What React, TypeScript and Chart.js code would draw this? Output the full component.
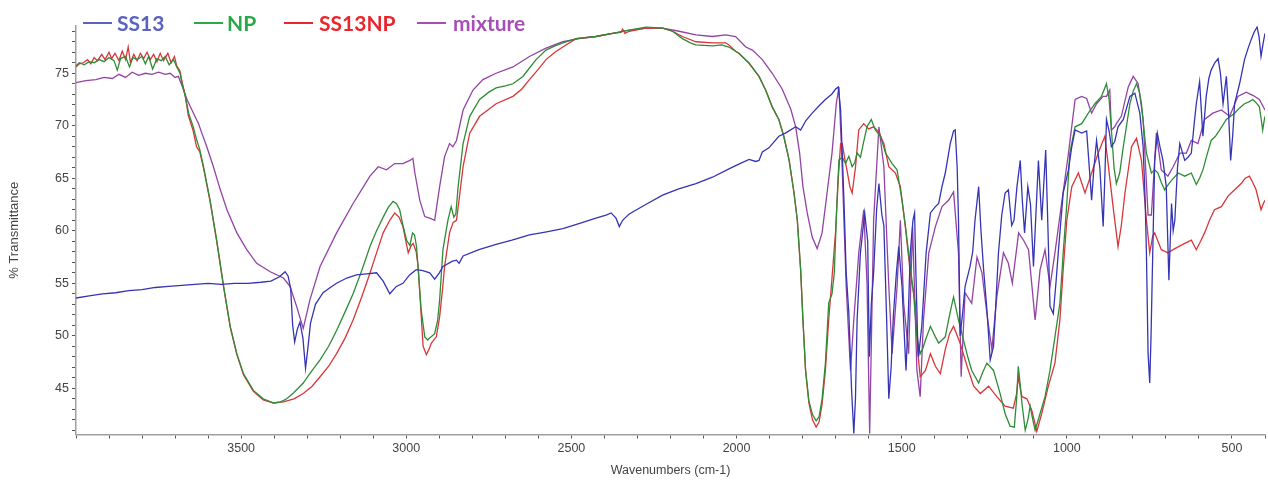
import React, { useEffect, useRef } from "react";
import { Chart, registerables } from "chart.js";

Chart.register(...registerables);

// [wavenumber (cm-1), % transmittance]
const ss13: [number, number][] = [
  [4000, 53.6], [3960, 53.8], [3920, 54.0], [3880, 54.1], [3840, 54.3], [3800, 54.4], [3760, 54.6], [3720, 54.7],
  [3680, 54.8], [3640, 54.9], [3600, 55.0], [3560, 54.9], [3520, 55.0], [3480, 55.0], [3440, 55.1], [3410, 55.2],
  [3385, 55.6], [3367, 56.1], [3358, 55.7], [3350, 54.5], [3344, 51.0], [3338, 49.4], [3330, 50.6], [3322, 51.3],
  [3313, 49.8], [3305, 46.9], [3298, 48.8], [3290, 51.2], [3275, 53.0], [3252, 54.1], [3230, 54.6], [3211, 55.0],
  [3180, 55.5], [3151, 55.8], [3120, 55.9], [3090, 56.0], [3070, 55.2], [3050, 54.0], [3030, 54.7], [3010, 55.0],
  [2990, 55.8], [2970, 56.3], [2950, 56.2], [2929, 56.0], [2914, 55.4], [2900, 56.0], [2889, 56.6], [2860, 57.1],
  [2848, 57.2], [2840, 56.9], [2828, 57.6], [2780, 58.2], [2728, 58.7], [2680, 59.1], [2627, 59.6], [2575, 59.9],
  [2526, 60.2], [2475, 60.7], [2426, 61.2], [2395, 61.5], [2380, 61.7], [2365, 61.2], [2355, 60.4], [2345, 61.0],
  [2335, 61.3], [2325, 61.6], [2275, 62.5], [2224, 63.4], [2175, 64.0], [2123, 64.5], [2073, 65.1], [2023, 65.9],
  [1990, 66.4], [1962, 66.8], [1942, 66.6], [1932, 66.7], [1922, 67.5], [1902, 67.9], [1872, 69.0], [1852, 69.3],
  [1821, 69.9], [1806, 69.6], [1790, 70.5], [1771, 71.2], [1750, 71.9], [1731, 72.5], [1712, 73.0], [1700, 73.5],
  [1692, 73.7], [1685, 71.5], [1680, 67.4], [1675, 63.0], [1668, 56.0], [1660, 52.1], [1652, 45.0], [1645, 40.7],
  [1640, 44.0], [1635, 51.5], [1625, 57.9], [1612, 61.7], [1603, 59.0], [1598, 48.0], [1592, 53.0], [1585, 56.0],
  [1576, 62.0], [1569, 64.5], [1560, 61.5], [1554, 60.5], [1546, 52.0], [1539, 44.0], [1532, 47.0], [1525, 52.0],
  [1516, 56.0], [1509, 58.5], [1499, 54.7], [1487, 46.7], [1480, 52.0], [1474, 57.9], [1466, 61.0], [1461, 61.7],
  [1457, 56.0], [1452, 50.0], [1449, 48.0], [1439, 51.0], [1426, 57.9], [1413, 61.7], [1398, 62.3], [1388, 62.6],
  [1378, 64.2], [1368, 65.5], [1353, 68.3], [1343, 69.5], [1338, 69.6], [1332, 66.0], [1328, 61.0], [1323, 50.0],
  [1316, 52.0], [1308, 54.7], [1293, 56.6], [1285, 58.0], [1278, 61.0], [1267, 64.2], [1260, 60.0], [1252, 56.3],
  [1242, 52.5], [1232, 47.7], [1222, 49.0], [1215, 53.0], [1207, 57.9], [1197, 61.5], [1187, 63.6], [1177, 63.9],
  [1167, 60.5], [1160, 61.0], [1151, 64.2], [1141, 66.7], [1135, 63.0], [1128, 59.8], [1118, 64.2], [1110, 62.5],
  [1101, 56.6], [1093, 62.0], [1086, 66.7], [1076, 61.0], [1064, 67.7], [1057, 60.0], [1051, 52.8], [1041, 52.1],
  [1033, 55.0], [1026, 57.9], [1011, 63.6], [995, 65.8], [985, 68.0], [975, 69.6], [955, 69.3], [940, 69.5],
  [932, 66.0], [925, 62.9], [918, 66.0], [910, 68.6], [900, 66.0], [890, 60.4], [884, 66.0], [880, 70.6],
  [872, 69.5], [865, 68.0], [855, 68.5], [845, 69.9], [829, 70.6], [809, 72.8], [794, 73.1], [779, 71.2],
  [769, 68.0], [763, 63.0], [759, 57.9], [754, 48.3], [749, 45.5], [745, 50.0], [742, 54.7], [734, 66.7],
  [726, 69.3], [718, 68.0], [709, 66.7], [699, 64.2], [691, 55.3], [683, 62.6], [678, 60.0], [673, 61.0],
  [665, 66.0], [658, 68.3], [643, 66.7], [633, 67.0], [623, 67.4], [615, 70.0], [608, 72.1], [598, 74.2],
  [588, 69.0], [578, 72.8], [570, 74.5], [563, 75.3], [552, 76.0], [542, 76.4], [535, 75.0], [527, 72.1],
  [517, 74.7], [510, 71.0], [504, 66.7], [498, 69.0], [492, 72.1], [477, 74.0], [462, 76.3], [452, 77.3],
  [442, 78.2], [433, 78.9], [424, 79.4], [418, 78.5], [412, 76.6], [406, 77.8], [400, 78.8],
];

const np: [number, number][] = [
  [4000, 75.7], [3990, 76.0], [3975, 75.8], [3960, 76.1], [3945, 76.0], [3930, 76.3], [3915, 76.1], [3900, 76.5],
  [3885, 76.2], [3875, 75.3], [3865, 76.4], [3850, 76.6], [3838, 75.6], [3828, 76.5], [3815, 76.3], [3800, 76.6],
  [3790, 75.9], [3780, 76.6], [3768, 75.4], [3755, 76.4], [3742, 76.2], [3730, 76.6], [3718, 75.8], [3705, 76.3],
  [3695, 75.6], [3685, 75.0], [3679, 74.0], [3669, 72.8], [3659, 71.2], [3645, 69.9], [3635, 68.7], [3625, 67.7],
  [3614, 66.1], [3594, 62.9], [3574, 59.1], [3553, 54.7], [3533, 50.9], [3513, 48.3], [3493, 46.4], [3463, 44.8],
  [3433, 44.0], [3402, 43.6], [3380, 43.7], [3362, 44.0], [3340, 44.6], [3312, 45.5], [3290, 46.5], [3261, 47.7],
  [3235, 49.0], [3211, 50.5], [3185, 52.3], [3161, 54.0], [3135, 56.2], [3110, 58.5], [3090, 60.0], [3070, 61.3],
  [3055, 62.2], [3040, 62.8], [3030, 62.6], [3020, 62.0], [3010, 60.5], [2999, 59.1], [2989, 58.6], [2981, 59.8],
  [2975, 59.6], [2969, 58.5], [2962, 55.5], [2955, 52.5], [2944, 49.9], [2935, 49.6], [2929, 49.8], [2914, 50.2],
  [2905, 51.5], [2899, 53.4], [2889, 58.2], [2874, 61.0], [2864, 62.3], [2856, 61.3], [2850, 61.6], [2843, 64.2],
  [2828, 68.3], [2808, 70.9], [2778, 72.5], [2750, 73.2], [2728, 73.6], [2700, 73.8], [2677, 74.0], [2647, 74.7],
  [2627, 75.5], [2607, 76.3], [2577, 77.2], [2550, 77.6], [2526, 77.9], [2486, 78.3], [2426, 78.5], [2375, 78.8],
  [2325, 79.1], [2274, 79.4], [2224, 79.3], [2194, 79.0], [2164, 78.3], [2140, 77.9], [2123, 77.7], [2073, 77.6],
  [2045, 77.7], [2023, 77.5], [2003, 77.1], [1993, 76.9], [1962, 75.95], [1932, 74.7], [1912, 73.4], [1892, 71.8],
  [1872, 70.6], [1857, 69.0], [1841, 66.75], [1826, 63.6], [1816, 61.0], [1806, 56.3], [1799, 51.5], [1791, 46.7],
  [1781, 43.8], [1770, 42.5], [1759, 41.9], [1750, 42.3], [1741, 44.0], [1731, 47.4], [1721, 53.1], [1711, 54.0],
  [1704, 56.0], [1697, 62.0], [1690, 66.75], [1680, 67.0], [1670, 66.4], [1660, 67.1], [1650, 66.1], [1642, 66.5],
  [1635, 67.4], [1625, 67.0], [1615, 68.5], [1605, 69.9], [1592, 70.6], [1580, 69.6], [1564, 69.0], [1549, 67.4],
  [1529, 66.4], [1514, 65.8], [1499, 62.9], [1489, 60.5], [1479, 57.9], [1464, 54.0], [1454, 49.9], [1444, 48.3],
  [1436, 48.8], [1428, 49.6], [1413, 50.9], [1398, 49.9], [1388, 49.3], [1378, 49.6], [1368, 49.9], [1355, 52.0],
  [1343, 53.7], [1328, 51.5], [1313, 49.6], [1300, 48.0], [1288, 46.7], [1267, 45.5], [1255, 46.5], [1242, 47.4],
  [1222, 46.7], [1202, 44.5], [1187, 42.6], [1172, 41.4], [1159, 41.3], [1152, 44.0], [1147, 47.1], [1140, 45.0],
  [1136, 43.6], [1126, 41.0], [1118, 42.0], [1111, 43.3], [1103, 42.0], [1096, 41.0], [1081, 42.6], [1066, 44.2],
  [1051, 46.7], [1036, 49.9], [1021, 53.1], [1011, 57.9], [1000, 62.6], [991, 67.4], [975, 69.9], [955, 70.2],
  [935, 71.2], [915, 72.1], [895, 72.8], [880, 74.0], [872, 72.5], [865, 69.6], [857, 66.0], [850, 64.5],
  [840, 65.5], [829, 68.0], [809, 72.1], [799, 73.3], [789, 74.0], [780, 73.2], [774, 72.1], [766, 69.5],
  [759, 67.4], [744, 65.5], [734, 65.8], [724, 65.5], [714, 64.6], [704, 63.9], [693, 64.4], [683, 64.8],
  [663, 65.5], [643, 65.2], [623, 65.5], [608, 64.4], [598, 65.0], [588, 65.8], [575, 67.3], [563, 68.6],
  [550, 69.0], [537, 69.6], [517, 70.6], [492, 71.2], [477, 71.7], [462, 72.1], [447, 72.3], [437, 72.5],
  [427, 72.2], [417, 71.8], [411, 70.5], [407, 69.6], [403, 70.4], [400, 70.9],
];

const ss13np: [number, number][] = [
  [4000, 75.6], [3990, 75.9], [3978, 76.0], [3965, 76.3], [3955, 75.9], [3945, 76.5], [3935, 76.2], [3922, 76.8],
  [3912, 76.3], [3900, 77.0], [3892, 76.4], [3882, 76.9], [3870, 76.2], [3860, 77.1], [3850, 76.3], [3842, 77.5],
  [3835, 76.0], [3825, 76.8], [3815, 76.2], [3805, 76.9], [3795, 76.4], [3785, 77.0], [3775, 76.3], [3765, 76.8],
  [3755, 76.1], [3745, 76.9], [3735, 76.2], [3722, 76.9], [3712, 76.0], [3702, 76.6], [3695, 75.7], [3685, 75.2],
  [3679, 74.2], [3670, 73.0], [3660, 71.0], [3645, 69.5], [3635, 68.0], [3625, 67.5], [3614, 66.0], [3594, 62.8],
  [3574, 59.0], [3553, 54.6], [3533, 50.8], [3513, 48.2], [3493, 46.3], [3463, 44.7], [3433, 43.9], [3402, 43.6],
  [3372, 43.7], [3340, 44.0], [3312, 44.5], [3285, 45.2], [3261, 46.1], [3235, 47.1], [3211, 48.3], [3185, 49.8],
  [3161, 51.5], [3135, 53.7], [3110, 55.95], [3090, 57.9], [3070, 59.8], [3050, 61.0], [3035, 61.7], [3022, 61.3],
  [3010, 60.4], [3000, 58.8], [2994, 57.9], [2985, 58.6], [2979, 58.8], [2970, 58.0], [2964, 56.6], [2956, 52.5],
  [2949, 49.0], [2939, 48.2], [2930, 48.8], [2924, 49.3], [2909, 49.9], [2899, 51.8], [2890, 54.5], [2884, 56.6],
  [2869, 59.8], [2858, 60.8], [2848, 61.0], [2838, 63.5], [2828, 66.1], [2808, 69.3], [2778, 70.9], [2728, 72.1],
  [2677, 72.8], [2650, 73.5], [2627, 74.4], [2600, 75.4], [2577, 76.3], [2550, 77.0], [2526, 77.5], [2486, 78.3],
  [2426, 78.5], [2375, 78.8], [2350, 78.9], [2345, 79.2], [2338, 78.8], [2325, 79.0], [2274, 79.3], [2224, 79.3],
  [2194, 79.0], [2164, 78.5], [2123, 78.0], [2073, 77.9], [2033, 77.9], [2023, 77.7], [2003, 77.1], [1993, 76.9],
  [1962, 75.95], [1932, 74.7], [1912, 73.4], [1892, 71.8], [1872, 70.6], [1857, 69.0], [1841, 66.75], [1826, 63.6],
  [1816, 61.0], [1806, 56.3], [1799, 51.5], [1791, 46.7], [1781, 43.6], [1770, 42.0], [1759, 41.3], [1750, 41.8],
  [1741, 43.5], [1731, 46.7], [1721, 51.5], [1711, 55.5], [1700, 60.0], [1692, 65.0], [1685, 68.3], [1680, 68.3],
  [1672, 66.8], [1664, 65.5], [1657, 64.2], [1650, 63.6], [1640, 66.0], [1630, 69.6], [1615, 70.2], [1600, 69.7],
  [1585, 69.9], [1569, 69.4], [1554, 68.3], [1539, 66.1], [1519, 65.5], [1504, 64.2], [1489, 60.4], [1474, 56.0],
  [1459, 53.1], [1451, 48.3], [1444, 46.1], [1436, 46.4], [1428, 46.7], [1413, 48.3], [1398, 47.1], [1383, 46.4],
  [1368, 48.7], [1355, 50.2], [1343, 50.9], [1323, 49.3], [1302, 47.1], [1282, 45.2], [1262, 44.5], [1237, 45.2],
  [1212, 44.2], [1187, 43.3], [1162, 43.1], [1152, 44.5], [1147, 46.1], [1140, 44.8], [1136, 44.2], [1121, 44.0],
  [1106, 42.9], [1091, 40.9], [1076, 42.6], [1056, 45.2], [1036, 47.4], [1021, 51.5], [1011, 56.3], [1000, 61.0],
  [985, 64.2], [965, 65.5], [945, 63.6], [925, 65.5], [905, 67.4], [885, 69.0], [875, 66.4], [860, 62.3],
  [845, 58.5], [835, 60.5], [824, 63.6], [804, 68.0], [789, 68.8], [774, 66.7], [759, 61.0], [749, 57.9],
  [740, 59.5], [734, 59.8], [714, 58.2], [694, 57.9], [673, 58.3], [643, 58.8], [623, 59.1], [608, 58.2],
  [595, 59.0], [583, 59.8], [568, 61.0], [553, 62.0], [532, 62.3], [512, 63.3], [492, 63.9], [472, 64.5],
  [460, 65.0], [447, 65.2], [437, 64.6], [427, 63.9], [412, 62.0], [405, 62.6], [400, 62.9],
];

const mixture: [number, number][] = [
  [4000, 74.1], [3970, 74.3], [3940, 74.4], [3915, 74.6], [3890, 74.5], [3870, 74.9], [3850, 74.6], [3830, 75.1],
  [3810, 74.8], [3790, 75.0], [3770, 74.9], [3750, 75.1], [3730, 74.9], [3715, 75.0], [3700, 74.6], [3690, 74.7],
  [3679, 73.8], [3664, 72.5], [3649, 71.5], [3629, 70.2], [3619, 69.3], [3604, 68.0], [3584, 66.1], [3563, 63.9],
  [3543, 62.0], [3513, 59.8], [3483, 58.2], [3453, 56.9], [3412, 56.1], [3372, 55.5], [3352, 54.7], [3332, 52.8],
  [3312, 50.7], [3292, 53.4], [3261, 56.6], [3211, 59.8], [3161, 62.6], [3110, 65.2], [3085, 66.1], [3060, 65.8],
  [3035, 66.4], [3010, 66.4], [2989, 66.7], [2980, 66.9], [2974, 65.5], [2959, 62.9], [2944, 61.35], [2929, 61.2],
  [2914, 61.0], [2899, 64.2], [2884, 67.06], [2869, 68.3], [2859, 68.0], [2848, 68.6], [2828, 71.5], [2798, 73.4],
  [2768, 74.4], [2728, 75.0], [2677, 75.6], [2627, 76.6], [2577, 77.4], [2526, 78.0], [2476, 78.3], [2426, 78.5],
  [2375, 78.8], [2325, 79.1], [2274, 79.3], [2224, 79.3], [2174, 79.0], [2123, 78.65], [2073, 78.5], [2033, 78.65],
  [2003, 78.5], [1972, 77.5], [1952, 77.2], [1922, 76.3], [1892, 75.0], [1862, 73.5], [1836, 71.6], [1821, 69.9],
  [1809, 67.4], [1799, 64.2], [1786, 61.7], [1771, 59.4], [1756, 58.3], [1741, 59.8], [1726, 63.6], [1711, 67.4],
  [1698, 72.1], [1690, 73.7], [1681, 66.7], [1668, 54.7], [1655, 46.7], [1645, 51.5], [1630, 57.9], [1615, 62.0],
  [1605, 55.0], [1597, 40.7], [1585, 61.0], [1569, 69.9], [1554, 66.1], [1539, 54.7], [1529, 48.3], [1514, 54.7],
  [1504, 61.0], [1494, 53.1], [1479, 48.3], [1467, 60.4], [1454, 46.7], [1444, 44.2], [1434, 51.5], [1418, 57.9],
  [1398, 60.4], [1378, 62.3], [1358, 62.9], [1343, 63.7], [1328, 57.9], [1320, 46.1], [1308, 54.1], [1288, 53.1],
  [1272, 57.5], [1257, 56.0], [1242, 52.1], [1227, 48.7], [1212, 53.7], [1192, 57.9], [1177, 56.9], [1165, 55.0],
  [1146, 59.8], [1131, 59.1], [1116, 58.2], [1096, 51.5], [1081, 56.3], [1066, 58.2], [1051, 54.7], [1036, 57.9],
  [1016, 62.6], [995, 67.4], [975, 72.5], [955, 72.8], [940, 72.6], [925, 71.2], [910, 72.1], [890, 72.8],
  [880, 72.8], [870, 73.4], [865, 69.6], [855, 69.9], [850, 70.2], [835, 70.9], [814, 73.7], [799, 74.7],
  [784, 74.0], [769, 70.6], [754, 61.5], [744, 61.5], [729, 69.3], [714, 65.8], [694, 65.2], [678, 66.1],
  [658, 67.4], [638, 67.4], [623, 68.6], [603, 68.3], [583, 70.6], [558, 71.2], [532, 71.5], [507, 70.9],
  [482, 72.8], [457, 73.2], [437, 72.9], [417, 72.5], [400, 71.5],
];

const seriesNames = ["SS13", "NP", "SS13NP", "mixture"];
const seriesData = [ss13, np, ss13np, mixture];
const lineColors = ["#3434b4", "#2f8c36", "#d8363a", "#9243a4"];
const legendColors = ["#5a62c2", "#2aa84a", "#e8262c", "#a64db6"];

const xTickStep = 100;
const xLabelStep = 500;
const yTickStep = 1;
const yLabelStep = 5;

const FONT = "'Liberation Sans', Arial, sans-serif";

export default function App() {
  const canvasRef = useRef<HTMLCanvasElement | null>(null);

  useEffect(() => {
    document.body.style.margin = "0";
    const canvas = canvasRef.current;
    if (!canvas) return;
    const chart = new Chart(canvas, {
      type: "line",
      data: {
        datasets: seriesData.map((pts, i) => ({
          label: seriesNames[i],
          data: pts.map(([x, y]) => ({ x, y })),
          borderColor: lineColors[i],
          backgroundColor: lineColors[i],
          borderWidth: 1.3,
          pointRadius: 0,
          tension: 0,
          fill: false,
        })),
      },
      options: {
        animation: false,
        responsive: false,
        maintainAspectRatio: false,
        parsing: true,
        layout: { padding: { left: 0, right: 1, top: 26, bottom: 0 } },
        plugins: {
          legend: { display: false },
          tooltip: { enabled: false },
          title: { display: false },
        },
        scales: {
          x: {
            type: "linear",
            reverse: true,
            min: 400,
            max: 4000,
            afterFit: (scale: any) => {
              scale.height = 47.5;
            },
            border: { display: true, color: "#a0a0a0", width: 1.5 },
            grid: {
              display: true,
              drawOnChartArea: false,
              drawTicks: true,
              tickLength: 4,
              tickColor: "#555",
              tickWidth: 1,
            },
            ticks: {
              stepSize: xTickStep,
              autoSkip: false,
              maxRotation: 0,
              includeBounds: false,
              padding: 3,
              color: "#444",
              font: { family: FONT, size: 12.5 },
              callback: (v: any) => {
                const n = Number(v);
                return n % xLabelStep === 0 && n !== 4000 ? String(n) : "";
              },
            },
            title: {
              display: true,
              text: "Wavenumbers (cm-1)",
              color: "#444",
              font: { family: FONT, size: 12.5 },
              padding: { top: 4, bottom: 4 },
            },
          },
          y: {
            type: "linear",
            min: 40.6,
            max: 79.5,
            afterFit: (scale: any) => {
              scale.width = 76;
            },
            border: { display: true, color: "#a0a0a0", width: 1.5 },
            grid: {
              display: true,
              drawOnChartArea: false,
              drawTicks: true,
              tickLength: 4,
              tickColor: "#555",
              tickWidth: 1,
            },
            ticks: {
              stepSize: yTickStep,
              autoSkip: false,
              includeBounds: false,
              padding: 3,
              color: "#444",
              font: { family: FONT, size: 12.5 },
              callback: (v: any) => {
                const n = Math.round(Number(v) * 100) / 100;
                return n % yLabelStep === 0 ? String(n) : "";
              },
            },
            title: {
              display: true,
              text: "% Transmittance",
              color: "#444",
              font: { family: FONT, size: 13 },
              padding: { top: 7, bottom: 0 },
            },
          },
        },
      } as any,
    });
    return () => chart.destroy();
  }, []);

  const legendLineX = [83, 194, 284, 417];
  const legendTextX = [117, 227, 319, 453];

  return (
    <div style={{ position: "relative", width: 1268, height: 482, background: "#fff" }}>
      <canvas ref={canvasRef} width={1268} height={482} style={{ display: "block" }} />
      {seriesNames.map((name, i) => (
        <React.Fragment key={name}>
          <div
            style={{
              position: "absolute",
              left: legendLineX[i],
              top: 21.5,
              width: 29,
              height: 2,
              background: legendColors[i],
            }}
          />
          <span
            style={{
              position: "absolute",
              left: legendTextX[i],
              top: 11.5,
              fontFamily: "Lato, 'Open Sans', sans-serif",
              fontWeight: 700,
              fontSize: 21,
              lineHeight: "21px",
              color: legendColors[i],
              whiteSpace: "nowrap",
            }}
          >
            {name}
          </span>
        </React.Fragment>
      ))}
    </div>
  );
}
